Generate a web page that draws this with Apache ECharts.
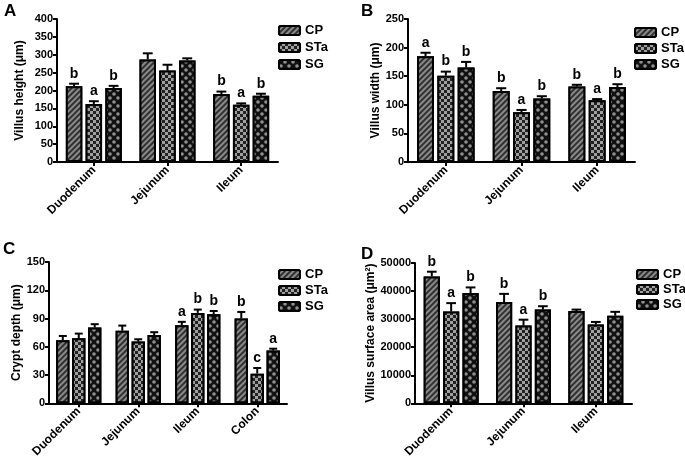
<!DOCTYPE html>
<html>
<head>
<meta charset="utf-8">
<script src="https://cdn.jsdelivr.net/npm/echarts@6/dist/echarts.min.js"></script>
<style>html,body{margin:0;padding:0;background:#fff;}#c{width:685px;height:460px;}</style>
</head>
<body>
<div id="c"></div>
<script>
// ---- data ----
const seriesNames = ['CP', 'STa', 'SG'];
const segmentsABD = ['Duodenum', 'Jejunum', 'Ileum'];
const segmentsC = ['Duodenum', 'Jejunum', 'Ileum', 'Colon'];

const heightCP = [212, 287, 190];
const heightSTa = [162, 256, 160];
const heightSG = [207, 284, 185];
const heightCPErr = [7, 17, 7];
const heightSTaErr = [8, 16, 4];
const heightSGErr = [6, 6, 6];
const heightCPLetters = ['b', '', 'b'];
const heightSTaLetters = ['a', '', 'a'];
const heightSGLetters = ['b', '', 'b'];

const widthCP = [185, 124, 132];
const widthSTa = [151, 87, 108];
const widthSG = [165, 111, 131];
const widthCPErr = [6, 5, 3];
const widthSTaErr = [7, 4, 2];
const widthSGErr = [10, 4, 5];
const widthCPLetters = ['a', 'b', 'b'];
const widthSTaLetters = ['b', 'a', 'a'];
const widthSGLetters = ['b', 'b', 'b'];

const depthCP = [67, 77, 83, 90];
const depthSTa = [69, 65.5, 96, 31.5];
const depthSG = [80.5, 72.5, 94.5, 56];
const depthCPErr = [4.5, 5.5, 3.5, 7];
const depthSTaErr = [5, 2.5, 3.5, 6];
const depthSGErr = [3.5, 3, 3.5, 2];
const depthCPLetters = ['', '', 'a', 'b'];
const depthSTaLetters = ['', '', 'b', 'c'];
const depthSGLetters = ['', '', 'b', 'a'];

const areaCP = [45200, 36100, 32900];
const areaSTa = [32700, 27700, 28100];
const areaSG = [39300, 33400, 31200];
const areaCPErr = [1700, 2900, 500];
const areaSTaErr = [3000, 2100, 900];
const areaSGErr = [2000, 1200, 1400];
const areaCPLetters = ['b', 'b', ''];
const areaSTaLetters = ['a', 'a', ''];
const areaSGLetters = ['b', 'b', ''];

// ---- styling ----
const FONT = 'Liberation Sans, Arial, sans-serif';
const CAT_GAP = 0.24, BAR_GAP = 0.2;
const decals = {
  CP: { color: '#303030', backgroundColor: '#8a8a8a', symbol: 'rect', dashArrayX: [1, 0], dashArrayY: [1.5, 1.5], rotation: -Math.PI / 4 },
  STa: { color: '#a0a0a0', backgroundColor: '#222', symbol: 'rect', dashArrayX: [[2.5, 2.5], [0, 2.5, 2.5, 0]], dashArrayY: [2.5, 0] },
  SG: { color: '#909090', backgroundColor: '#111', symbol: 'circle', symbolSize: 0.9, dashArrayX: [[4, 4], [0, 4, 4, 0]], dashArrayY: [4, 0] }
};
const baseColor = { CP: '#666', STa: '#444', SG: '#222' };

const panels = [
  { cats: segmentsABD, vals: [heightCP, heightSTa, heightSG], errs: [heightCPErr, heightSTaErr, heightSGErr], lets: [heightCPLetters, heightSTaLetters, heightSGLetters], max: 400, interval: 50, name: 'Villus height (μm)', grid: { left: 57, top: 19, width: 221, height: 143 }, nameGap: 31, legend: { left: 273, top: 19, gap: 4 }, tag: 'A', tagPos: [4, 3] },
  { cats: segmentsABD, vals: [widthCP, widthSTa, widthSG], errs: [widthCPErr, widthSTaErr, widthSGErr], lets: [widthCPLetters, widthSTaLetters, widthSGLetters], max: 250, interval: 50, name: 'Villus width (μm)', grid: { left: 408, top: 19, width: 227, height: 143 }, nameGap: 21, legend: { left: 629, top: 21, gap: 3 }, tag: 'B', tagPos: [361, 3] },
  { cats: segmentsC, vals: [depthCP, depthSTa, depthSG], errs: [depthCPErr, depthSTaErr, depthSGErr], lets: [depthCPLetters, depthSTaLetters, depthSGLetters], max: 150, interval: 30, name: 'Crypt depth (μm)', grid: { left: 49, top: 262, width: 238, height: 143 }, nameGap: 26, legend: { left: 273, top: 263, gap: 3 }, tag: 'C', tagPos: [3, 241] },
  { cats: segmentsABD, vals: [areaCP, areaSTa, areaSG], errs: [areaCPErr, areaSTaErr, areaSGErr], lets: [areaCPLetters, areaSTaLetters, areaSGLetters], max: 50000, interval: 10000, name: 'Villus surface area (μm²)', grid: { left: 415, top: 263, width: 217, height: 142 }, nameGap: 38, legend: { left: 631, top: 263, gap: 2 }, tag: 'D', tagPos: [361, 246] }
];

const grids = [], xAxes = [], yAxes = [], series = [], legends = [], graphics = [];
const axisLine = { show: true, lineStyle: { color: '#000', width: 2 } };
const axisTick = { show: true, length: 4, lineStyle: { color: '#000', width: 2 } };

panels.forEach((p, pi) => {
  grids.push(Object.assign({}, p.grid));
  xAxes.push({
    type: 'category', gridIndex: pi, data: p.cats,
    axisLine: axisLine, axisTick: Object.assign({ alignWithLabel: true }, axisTick),
    axisLabel: { interval: 0, rotate: 45, margin: 6, color: '#000', fontFamily: FONT, fontWeight: 'bold', fontSize: 12 }
  });
  yAxes.push({
    type: 'value', gridIndex: pi, min: 0, max: p.max, interval: p.interval,
    name: p.name, nameLocation: 'middle', nameGap: p.nameGap, nameRotate: 90,
    nameTextStyle: { color: '#000', fontFamily: FONT, fontWeight: 'bold', fontSize: 12 },
    axisLine: axisLine, axisTick: axisTick, splitLine: { show: false },
    axisLabel: { margin: 4, color: '#000', fontFamily: FONT, fontWeight: 'bold', fontSize: 11, formatter: function (v) { return String(v); } }
  });
  seriesNames.forEach((sn, si) => {
    series.push({
      type: 'bar', name: sn, xAxisIndex: pi, yAxisIndex: pi,
      data: p.vals[si], barCategoryGap: (CAT_GAP * 100) + '%', barGap: (BAR_GAP * 100) + '%',
      itemStyle: { color: baseColor[sn], borderColor: '#000', borderWidth: 2, decal: decals[sn] },
      emphasis: { disabled: true }, animation: false
    });
  });
  const errData = [];
  p.cats.forEach((c, ci) => {
    seriesNames.forEach((sn, si) => {
      errData.push([ci, si, p.vals[si][ci], p.errs[si][ci]]);
    });
  });
  series.push({
    type: 'custom', xAxisIndex: pi, yAxisIndex: pi, z: 5, animation: false, silent: true,
    data: errData,
    renderItem: function (params, api) {
      const ci = api.value(0), si = api.value(1), v = api.value(2), e = api.value(3);
      const band = api.size([1, 0])[0];
      const groupW = band * (1 - CAT_GAP);
      const bw = groupW / (3 + 2 * BAR_GAP);
      const c0 = api.coord([ci, v]);
      const x = c0[0] - groupW / 2 + bw / 2 + si * bw * (1 + BAR_GAP);
      const yTop = api.coord([ci, v + e])[1];
      const letter = p.lets[si][ci];
      const children = [
        { type: 'line', shape: { x1: x, y1: c0[1], x2: x, y2: yTop }, style: { stroke: '#000', lineWidth: 2 } },
        { type: 'line', shape: { x1: x - bw * 0.3, y1: yTop, x2: x + bw * 0.3, y2: yTop }, style: { stroke: '#000', lineWidth: 2 } }
      ];
      if (letter) {
        children.push({ type: 'text', style: { text: letter, x: x, y: yTop - 3, align: 'center', verticalAlign: 'bottom', fill: '#000', font: 'bold 14px ' + FONT } });
      }
      return { type: 'group', children: children };
    }
  });
  legends.push({
    orient: 'vertical', left: p.legend.left, top: p.legend.top, data: seriesNames,
    itemWidth: 21, itemHeight: 9, itemGap: p.legend.gap, selectedMode: false,
    textStyle: { color: '#000', fontFamily: FONT, fontWeight: 'bold', fontSize: 13 },
    itemStyle: { borderColor: '#000', borderWidth: 2 }
  });
  graphics.push({ type: 'text', left: p.tagPos[0], top: p.tagPos[1], style: { text: p.tag, fill: '#000', font: 'bold 17px ' + FONT } });
});

const chart = echarts.init(document.getElementById('c'), null, { renderer: 'canvas' });
chart.setOption({
  animation: false,
  backgroundColor: '#fff',
  grid: grids, xAxis: xAxes, yAxis: yAxes, series: series, legend: legends, graphic: graphics
});
</script>
</body>
</html>
